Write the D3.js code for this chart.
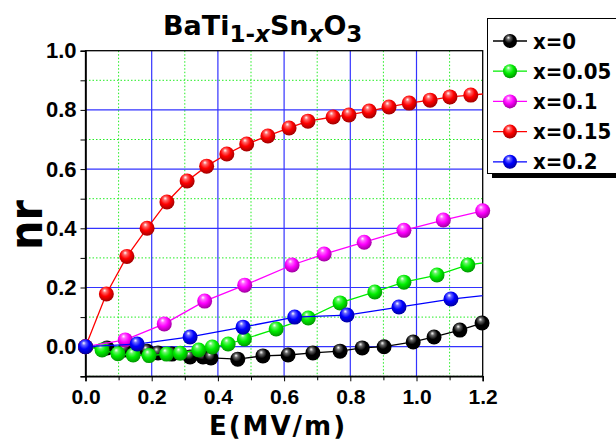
<!DOCTYPE html>
<html>
<head>
<meta charset="utf-8">
<script src="https://cdn.jsdelivr.net/npm/d3@7/dist/d3.min.js"></script>
<style>
  body { margin: 0; background: #fff; }
  svg { display: block; font-family: "DejaVu Sans Condensed", "DejaVu Sans", sans-serif; font-stretch: condensed; font-weight: bold; }
  .wide { font-family: "DejaVu Sans", sans-serif; font-stretch: normal; }
</style>
</head>
<body>
<svg id="chart" width="616" height="442"></svg>
<script>
// data
var seriesNames = ['x=0', 'x=0.05', 'x=0.1', 'x=0.15', 'x=0.2'];
var seriesColors = ['#000000', '#00ee00', '#ff00ff', '#ff0000', '#0000ff'];

var E_x0   = [0, 0.065, 0.119, 0.186, 0.219, 0.261, 0.316, 0.355, 0.379, 0.46, 0.536, 0.612, 0.687, 0.769, 0.836, 0.902, 0.99, 1.053, 1.131, 1.198];
var nr_x0  = [0, -0.004, -0.011, -0.015, -0.021, -0.025, -0.035, -0.035, -0.038, -0.042, -0.031, -0.028, -0.021, -0.015, -0.004, 0, 0.016, 0.033, 0.056, 0.08];

var E_x05  = [0, 0.05, 0.098, 0.144, 0.192, 0.245, 0.286, 0.342, 0.383, 0.431, 0.48, 0.576, 0.673, 0.769, 0.874, 0.962, 1.062, 1.155, 1.245];
var nr_x05 = [0, -0.011, -0.024, -0.028, -0.03, -0.025, -0.022, -0.011, -0.001, 0.009, 0.026, 0.06, 0.097, 0.148, 0.185, 0.218, 0.242, 0.276, 0.29];

var E_x1   = [0, 0.12, 0.238, 0.36, 0.481, 0.624, 0.721, 0.842, 0.962, 1.081, 1.2];
var nr_x1  = [0, 0.023, 0.077, 0.154, 0.208, 0.276, 0.313, 0.353, 0.393, 0.428, 0.459];

var E_x15  = [0, 0.063, 0.125, 0.186, 0.246, 0.307, 0.366, 0.427, 0.487, 0.551, 0.615, 0.672, 0.748, 0.796, 0.857, 0.917, 0.978, 1.041, 1.101, 1.164, 1.225];
var nr_x15 = [0, 0.178, 0.305, 0.40, 0.489, 0.56, 0.61, 0.651, 0.685, 0.712, 0.739, 0.762, 0.776, 0.783, 0.796, 0.81, 0.823, 0.833, 0.844, 0.85, 0.856];

var E_x2   = [0, 0.156, 0.316, 0.476, 0.632, 0.79, 0.947, 1.104, 1.26];
var nr_x2  = [0, 0.009, 0.033, 0.066, 0.1, 0.107, 0.134, 0.161, 0.18];

var xTicks = [0, 0.2, 0.4, 0.6, 0.8, 1.0, 1.2];
var yTicks = [0, 0.2, 0.4, 0.6, 0.8, 1.0];

var allE  = [E_x0, E_x05, E_x1, E_x15, E_x2];
var allNr = [nr_x0, nr_x05, nr_x1, nr_x15, nr_x2];

var svg = d3.select('#chart');
var pLeft = 85.5, pRight = 482.7, pTop = 50.7, pBottom = 376.3;

var x = d3.scaleLinear().domain([0, 1.2]).range([pLeft, pRight]);
var y = d3.scaleLinear().domain([-0.1, 1.0]).range([pBottom, pTop]);

var defs = svg.append('defs');
defs.append('clipPath').attr('id', 'plotClip')
  .append('rect').attr('x', pLeft).attr('y', pTop).attr('width', pRight - pLeft).attr('height', pBottom - pTop);

// shiny ball gradients
seriesColors.forEach(function(c, i){
  var g = defs.append('radialGradient').attr('id', 'ball' + i)
    .attr('cx', '45%').attr('cy', '40%').attr('r', '60%')
    .attr('fx', '38%').attr('fy', '25%');
  g.append('stop').attr('offset', '0%').attr('stop-color', '#ffffff');
  g.append('stop').attr('offset', '22%').attr('stop-color', d3.interpolateRgb('#ffffff', c)(0.6));
  g.append('stop').attr('offset', '55%').attr('stop-color', c);
  g.append('stop').attr('offset', '100%').attr('stop-color', d3.color(c).darker(1.3));
});

// minor grid (green dotted)
var minorX = [0.1, 0.3, 0.5, 0.7, 0.9, 1.1];
var minorY = [-0.1, 0.1, 0.3, 0.5, 0.7, 0.9];
svg.append('g').selectAll('line').data(minorX).join('line')
  .attr('x1', d => x(d)).attr('x2', d => x(d)).attr('y1', pTop).attr('y2', pBottom)
  .attr('stroke', '#22ee22').attr('stroke-width', 1).attr('stroke-dasharray', '1.5,2');
svg.append('g').selectAll('line').data(minorY).join('line')
  .attr('x1', pLeft).attr('x2', pRight).attr('y1', d => y(d)).attr('y2', d => y(d))
  .attr('stroke', '#22ee22').attr('stroke-width', 1).attr('stroke-dasharray', '1.5,2');

// major grid (blue)
svg.append('g').selectAll('line').data(xTicks.slice(1, -1)).join('line')
  .attr('x1', d => x(d)).attr('x2', d => x(d)).attr('y1', pTop).attr('y2', pBottom)
  .attr('stroke', '#3333ff').attr('stroke-width', 1.2);
svg.append('g').selectAll('line').data(yTicks.slice(0, -1)).join('line')
  .attr('x1', pLeft).attr('x2', pRight).attr('y1', d => y(d)).attr('y2', d => y(d))
  .attr('stroke', '#3333ff').attr('stroke-width', 1.2);

// frame
svg.append('rect').attr('x', pLeft).attr('y', pTop).attr('width', pRight - pLeft).attr('height', pBottom - pTop)
  .attr('fill', 'none').attr('stroke', '#000').attr('stroke-width', 1.3);

// axes
var xAxis = d3.axisBottom(x).tickValues(xTicks).tickFormat(d3.format('.1f')).tickSize(5).tickPadding(8);
var gx = svg.append('g').attr('transform', 'translate(0,' + pBottom + ')').call(xAxis);
gx.select('.domain').attr('stroke-width', 1.6);
gx.selectAll('text').attr('font-size', 21).attr('font-family', null).attr('fill', '#000');
svg.append('g').attr('transform', 'translate(0,' + pBottom + ')')
  .call(d3.axisBottom(x).tickValues(minorX).tickSize(4).tickFormat(''))
  .select('.domain').remove();

var yAxis = d3.axisLeft(y).tickValues(yTicks).tickFormat(d3.format('.1f')).tickSize(5).tickPadding(4);
var gy = svg.append('g').attr('transform', 'translate(' + pLeft + ',0)').call(yAxis);
gy.select('.domain').attr('stroke-width', 1.6);
gy.selectAll('text').attr('font-size', 22).attr('font-family', null).attr('fill', '#000');
svg.append('g').attr('transform', 'translate(' + pLeft + ',0)')
  .call(d3.axisLeft(y).tickValues(minorY).tickSize(5).tickFormat(''))
  .select('.domain').remove();

// series
var line = d3.line().x(d => x(d[0])).y(d => y(d[1]));
var plot = svg.append('g');
allE.forEach(function(E, i){
  var pts = E.map(function(e, j){ return [e, allNr[i][j]]; });
  plot.append('path').datum(pts)
    .attr('clip-path', 'url(#plotClip)')
    .attr('d', line).attr('fill', 'none')
    .attr('stroke', seriesColors[i]).attr('stroke-width', 1.3);
  plot.append('g').selectAll('circle').data(pts.filter(p => p[0] <= 1.2)).join('circle')
    .attr('cx', d => x(d[0])).attr('cy', d => y(d[1])).attr('r', 7.5)
    .attr('fill', 'url(#ball' + i + ')');
});

// title
var title = svg.append('text').attr('class', 'wide').attr('x', 163).attr('y', 35).attr('font-size', 27).attr('fill', '#000');
title.append('tspan').text('BaTi');
title.append('tspan').attr('font-size', 23).attr('dy', 7).text('1-');
title.append('tspan').attr('font-size', 23).attr('font-style', 'italic').text('x');
title.append('tspan').attr('dy', -7).text('Sn');
title.append('tspan').attr('font-size', 23).attr('font-style', 'italic').attr('dy', 7).text('x');
title.append('tspan').attr('dy', -7).text('O');
title.append('tspan').attr('font-size', 23).attr('dy', 7).text('3');

// axis titles
svg.append('text').attr('class', 'wide').attr('x', 278).attr('y', 435).attr('text-anchor', 'middle')
  .attr('font-size', 26).attr('letter-spacing', 2).text('E(MV/m)');
svg.append('text').attr('transform', 'translate(42,225) rotate(-90)').attr('text-anchor', 'middle')
  .attr('font-size', 46).text('nr');

// legend
var lg = svg.append('g');
lg.append('rect').attr('x', 492).attr('y', 23).attr('width', 140).attr('height', 155).attr('fill', '#000');
lg.append('rect').attr('x', 487.5).attr('y', 18.5).attr('width', 140).attr('height', 155)
  .attr('fill', '#fff').attr('stroke', '#000').attr('stroke-width', 1);
seriesNames.forEach(function(name, i){
  var ly = 41 + i * 30.2;
  lg.append('line').attr('x1', 493).attr('x2', 527).attr('y1', ly).attr('y2', ly)
    .attr('stroke', seriesColors[i]).attr('stroke-width', 1.3);
  lg.append('circle').attr('cx', 510).attr('cy', ly).attr('r', 7).attr('fill', 'url(#ball' + i + ')');
  lg.append('text').attr('x', 533).attr('y', ly + 7.5).attr('font-size', 22).text(name);
});
</script>
</body>
</html>
